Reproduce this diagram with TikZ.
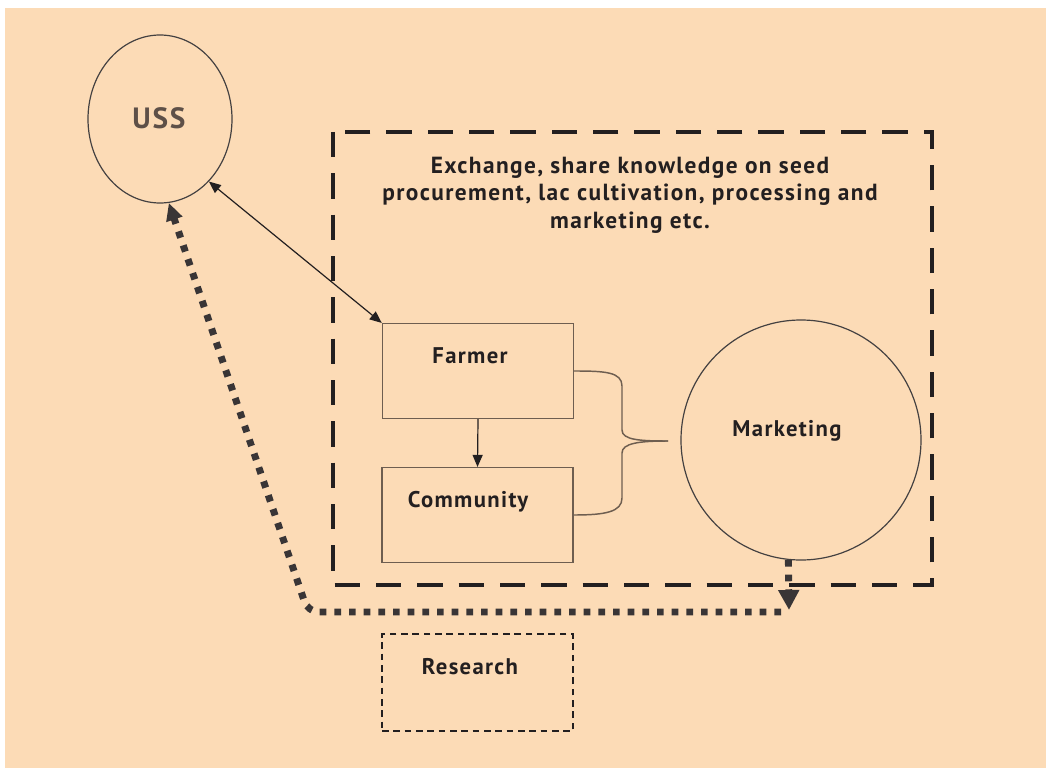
\documentclass[tikz,border=0pt]{standalone}
\usepackage{fontspec}
\setmainfont{PT Sans}
\usepackage{xcolor}
\usetikzlibrary{shapes.geometric}
\usetikzlibrary{arrows.meta}
\definecolor{peach}{RGB}{252,219,182}
\definecolor{ink}{RGB}{35,31,32}
\definecolor{boxline}{RGB}{110,94,80}
\definecolor{ussgray}{RGB}{94,80,72}

\begin{document}
\begin{tikzpicture}[x=0.75pt,y=-0.75pt,
  every node/.style={font=\bfseries\fontsize{17}{20}\selectfont\addfontfeature{LetterSpace=6},text=ink},
  bubble/.style={circle,draw=ink!85,line width=0.9pt},
  box/.style={rectangle,draw=boxline,line width=1.1pt,minimum width=143.25pt,minimum height=71pt},
  frame/.style={draw=ink,line width=3.4pt,dash pattern=on 19pt off 12pt},
  dotline/.style={draw=ink!90,line width=5.2pt,dash pattern=on 5pt off 6pt},
  brace/.style={draw=boxline,line width=1.1pt}]
  \useasboundingbox (0,0) rectangle (1046,770);
  \fill[white] (0,0) rectangle (1046,770);
  \fill[peach] (5,8) rectangle (1046,768);
  \node [ellipse,draw=ink!85,line width=0.9pt,minimum width=108pt,minimum height=126pt](uss) at (160,119) {};
    \node [text=ussgray,font=\bfseries\fontsize{22}{26}\selectfont\addfontfeature{LetterSpace=6}](usstxt) at (159,118) {USS};
    \draw [frame] (333,132) rectangle (932,585);
    \node [align=center,font=\bfseries\fontsize{17.5}{20.6}\selectfont\addfontfeature{LetterSpace=6}](exchange) at (630,195) {Exchange, share knowledge on seed\\procurement, lac cultivation, processing and\\marketing etc.};
    \node [box](farmer) at (478,371) {};
    \node (farmertxt) at (470,356) {Farmer};
    \node [box](community) at (477.5,515) {};
    \node (communitytxt) at (468,502) {Community};
    \node [bubble,minimum size=180pt](marketing) at (801,440) {};
    \node (marketingtxt) at (787,431) {Marketing};
    \node [rectangle,draw=ink,line width=1pt,dash pattern=on 5pt off 3.5pt,minimum width=143.25pt,minimum height=72.75pt](research) at (477.5,682.5) {};
    \node (researchtxt) at (470,667) {Research};
    \coordinate (tip) at (668,441);
    \coordinate (down) at (789,610);
    \coordinate (bend) at (308,612);
    \draw [ink,line width=0.9pt,{Triangle[length=9pt,width=7.5pt]}-{Triangle[length=9pt,width=7.5pt]}] (uss.-52) -- (farmer.north west);
    \draw [ink,line width=0.9pt,-{Triangle[length=9pt,width=7.5pt]}] (farmer.south) -- (community.north);
    \draw [brace] (farmer.east) .. controls (605,371) and (622,372) .. (622,386) -- (622,430) .. controls (622,440) and (640,441) .. (tip);
    \draw [brace] (community.east) .. controls (605,515) and (622,512) .. (622,498) -- (622,453) .. controls (622,443) and (640,441) .. (tip);
    \draw [dotline,-{Triangle[length=15pt,width=15pt]}] (marketing.-96) -- (down);
    \draw [dotline,rounded corners=8pt,-{Triangle[length=13pt,width=12pt]}] (781,612) -- (bend) -- (uss.-84);
\end{tikzpicture}
\end{document}
